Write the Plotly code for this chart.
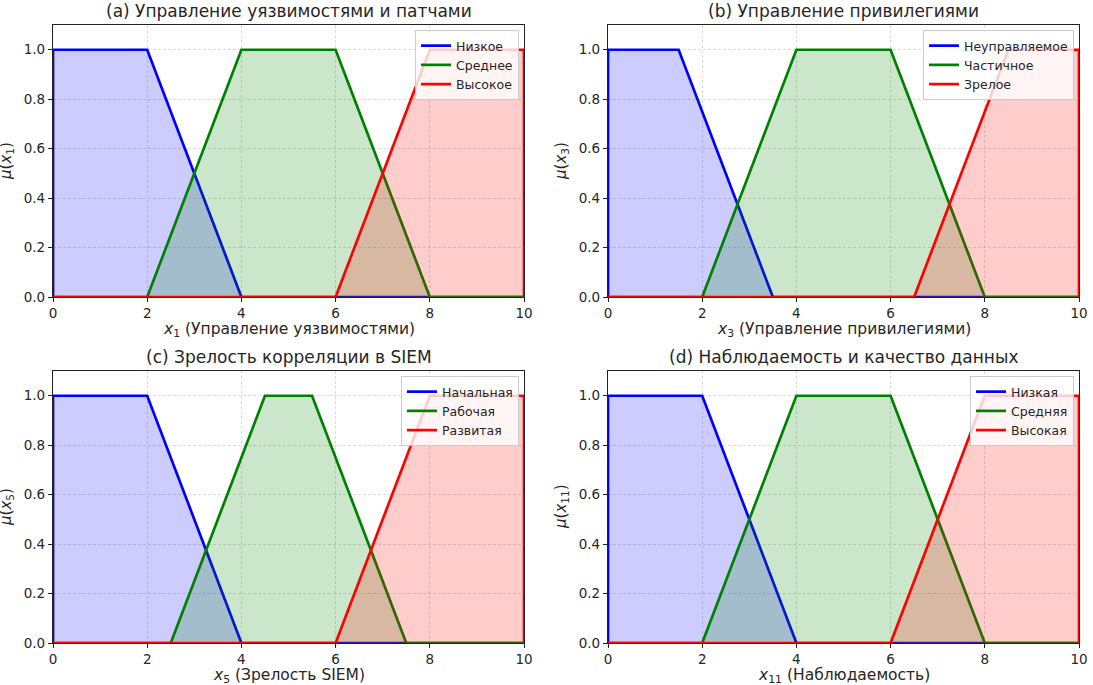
import plotly.graph_objects as go

W, H = 1093, 685

# ---------------- data (membership-function vertices) ----------------
x_ticks = [0, 2, 4, 6, 8, 10]
y_ticks = [0.0, 0.2, 0.4, 0.6, 0.8, 1.0]

# (a) x1
a_low_x = [0, 0, 2, 4, 10];        a_low_y = [0, 1, 1, 0, 0]
a_mid_x = [0, 2, 4, 6, 8, 10];     a_mid_y = [0, 0, 1, 1, 0, 0]
a_high_x = [0, 6, 8, 10, 10];      a_high_y = [0, 0, 1, 1, 0]
a_names = ["Низкое", "Среднее", "Высокое"]

# (b) x3
b_low_x = [0, 0, 1.5, 3.5, 10];    b_low_y = [0, 1, 1, 0, 0]
b_mid_x = [0, 2, 4, 6, 8, 10];     b_mid_y = [0, 0, 1, 1, 0, 0]
b_high_x = [0, 6.5, 8.5, 10, 10];  b_high_y = [0, 0, 1, 1, 0]
b_names = ["Неуправляемое", "Частичное", "Зрелое"]

# (c) x5
c_low_x = [0, 0, 2, 4, 10];        c_low_y = [0, 1, 1, 0, 0]
c_mid_x = [0, 2.5, 4.5, 5.5, 7.5, 10]; c_mid_y = [0, 0, 1, 1, 0, 0]
c_high_x = [0, 6, 8, 10, 10];      c_high_y = [0, 0, 1, 1, 0]
c_names = ["Начальная", "Рабочая", "Развитая"]

# (d) x11
d_low_x = [0, 0, 2, 4, 10];        d_low_y = [0, 1, 1, 0, 0]
d_mid_x = [0, 2, 4, 6, 8, 10];     d_mid_y = [0, 0, 1, 1, 0, 0]
d_high_x = [0, 6, 8, 10, 10];      d_high_y = [0, 0, 1, 1, 0]
d_names = ["Низкая", "Средняя", "Высокая"]

titles = ["(a) Управление уязвимостями и патчами",
          "(b) Управление привилегиями",
          "(c) Зрелость корреляции в SIEM",
          "(d) Наблюдаемость и качество данных"]
xlabels = ["<i>x</i><sub>1</sub> (Управление уязвимостями)",
           "<i>x</i><sub>3</sub> (Управление привилегиями)",
           "<i>x</i><sub>5</sub> (Зрелость SIEM)",
           "<i>x</i><sub>11</sub> (Наблюдаемость)"]
ylabels = ["<i>μ</i>(<i>x</i><sub>1</sub>)",
           "<i>μ</i>(<i>x</i><sub>3</sub>)",
           "<i>μ</i>(<i>x</i><sub>5</sub>)",
           "<i>μ</i>(<i>x</i><sub>11</sub>)"]

panels = [
    ([(a_low_x, a_low_y), (a_mid_x, a_mid_y), (a_high_x, a_high_y)], a_names),
    ([(b_low_x, b_low_y), (b_mid_x, b_mid_y), (b_high_x, b_high_y)], b_names),
    ([(c_low_x, c_low_y), (c_mid_x, c_mid_y), (c_high_x, c_high_y)], c_names),
    ([(d_low_x, d_low_y), (d_mid_x, d_mid_y), (d_high_x, d_high_y)], d_names),
]

line_colors = ["rgb(0,0,255)", "rgb(0,128,0)", "rgb(255,0,0)"]
fill_colors = ["rgba(0,0,255,0.2)", "rgba(0,128,0,0.2)", "rgba(255,0,0,0.2)"]

# ---------------- layout geometry (pixels) ----------------
col_px = [(53, 524), (608, 1079)]
row_px = [(25, 297), (371, 643)]  # top, bottom

FONT = "DejaVu Sans"
TXT = "#262626"

fig = go.Figure()
layout = dict(
    width=W, height=H,
    margin=dict(l=0, r=0, t=0, b=0, autoexpand=False),
    paper_bgcolor="white", plot_bgcolor="white",
    font=dict(family=FONT, color=TXT, size=12),
    showlegend=True,
    annotations=[],
)

for i, (curves, names) in enumerate(panels):
    r, c = divmod(i, 2)
    x0, x1 = col_px[c]
    top, bot = row_px[r]
    xd = [x0 / W, x1 / W]
    yd = [(H - bot) / H, (H - top) / H]
    sfx = "" if i == 0 else str(i + 1)
    xa, ya = "x" + sfx, "y" + sfx
    leg = "legend" if i == 0 else "legend" + str(i + 1)

    for k, ((xs, ys), nm) in enumerate(zip(curves, names)):
        fig.add_trace(go.Scatter(
            x=xs, y=ys, mode="lines", name=nm,
            line=dict(color=line_colors[k], width=2.7),
            xaxis=xa, yaxis=ya, legend=leg, hoverinfo="skip",
        ))
        fig.add_trace(go.Scatter(
            x=xs, y=ys, mode="none", showlegend=False,
            fill="tozeroy", fillcolor=fill_colors[k],
            xaxis=xa, yaxis=ya, hoverinfo="skip",
        ))

    common = dict(
        showline=True, mirror=True, linecolor="#222", linewidth=1.2,
        ticks="outside", ticklen=4, tickwidth=1.1, tickcolor="#222",
        showgrid=True, gridcolor="rgba(176,176,176,0.45)", gridwidth=0.8,
        griddash="3px,2px", zeroline=False, automargin=False,
        tickfont=dict(family=FONT, size=13.5, color=TXT),
    )
    layout["xaxis" + sfx] = dict(
        domain=xd, anchor=ya, range=[0, 10], tickvals=x_ticks,
        ticktext=[str(v) for v in x_ticks], **common)
    layout["yaxis" + sfx] = dict(
        domain=yd, anchor=xa, range=[0, 1.1], tickvals=y_ticks,
        ticktext=[f"{v:.1f}" for v in y_ticks], **common)

    layout[leg] = dict(
        x=(x1 - 5) / W, y=(H - top - 5) / H, xanchor="right", yanchor="top",
        bgcolor="rgba(255,255,255,0.8)", bordercolor="#cccccc", borderwidth=1,
        font=dict(family=FONT, size=12.5, color=TXT),
        tracegroupgap=0, itemwidth=30,
    )

    cx = (x0 + x1) / 2 / W
    layout["annotations"] += [
        dict(text=titles[i], x=cx, y=(H - (top - 14)) / H, xref="paper", yref="paper",
             xanchor="center", yanchor="middle", showarrow=False,
             font=dict(family=FONT, size=17, color=TXT)),
        dict(text=xlabels[i], x=cx, y=(H - (bot + 33)) / H, xref="paper", yref="paper",
             xanchor="center", yanchor="middle", showarrow=False,
             font=dict(family=FONT, size=15.5, color=TXT)),
        dict(text=ylabels[i], x=(x0 - 47) / W, y=(H - (top + bot) / 2) / H,
             xref="paper", yref="paper", xanchor="center", yanchor="middle",
             textangle=-90, showarrow=False,
             font=dict(family=FONT, size=15, color=TXT)),
    ]

fig.update_layout(**layout)
fig.write_html(
    "out.html",
    config={"displayModeBar": False},
    post_script="document.body.style.margin='0';document.body.style.overflow='hidden';",
)
